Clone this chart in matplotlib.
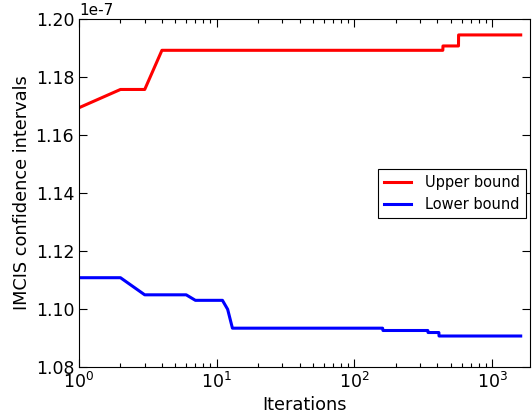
import matplotlib
matplotlib.use('Agg')
import matplotlib.pyplot as plt
import numpy as np

# breakpoints of the two bounds (iteration, value)
upper_iter = [1, 2, 3, 4, 438, 439, 569, 570, 1610]
upper_val = [1.1694, 1.1757, 1.1757, 1.1892, 1.1892, 1.1907, 1.1907, 1.1945, 1.1945]

lower_iter = [1, 2, 3, 6, 7, 11, 12, 13, 160, 161, 341, 342, 410, 411, 1610]
lower_val = [1.1108, 1.1108, 1.1049, 1.1049, 1.1030, 1.1030, 1.0999, 1.0934,
             1.0934, 1.0926, 1.0926, 1.0919, 1.0919, 1.0907, 1.0907]

plt.rcParams['axes.unicode_minus'] = False
plt.rcParams['xtick.direction'] = 'in'
plt.rcParams['ytick.direction'] = 'in'

fig = plt.figure(figsize=(5.32, 4.19), dpi=100)
ax = fig.add_axes([0.1485, 0.124, 0.9962 - 0.1485, 0.9547 - 0.124])

ax.plot(upper_iter, np.array(upper_val) * 1e-7, color='r', lw=2.2, label='Upper bound')
ax.plot(lower_iter, np.array(lower_val) * 1e-7, color='b', lw=2.2, label='Lower bound')

ax.set_xscale('log')
ax.set_xlim(1, 1880)
ax.set_ylim(1.08e-7, 1.20e-7)
ax.set_yticks(np.arange(1.08, 1.2001, 0.02) * 1e-7)

ax.tick_params(which='both', top=True, right=True, labelsize=12.5)
ax.tick_params(which='major', length=5.5, width=0.8)
ax.tick_params(which='minor', length=2.8, width=0.8)
ax.yaxis.get_offset_text().set_fontsize(11)

ax.set_xlabel('Iterations', fontsize=12.8, labelpad=3)
ax.set_ylabel('IMCIS confidence intervals', fontsize=12.8, labelpad=3)

leg = ax.legend(loc='center right', bbox_to_anchor=(0.991, 0.499), borderaxespad=0,
                fontsize=10.5, fancybox=False, framealpha=1, edgecolor='k',
                handlelength=1.8, handletextpad=1.0)
leg.get_frame().set_linewidth(0.8)

fig.savefig('out.png', dpi=100, facecolor='white')
